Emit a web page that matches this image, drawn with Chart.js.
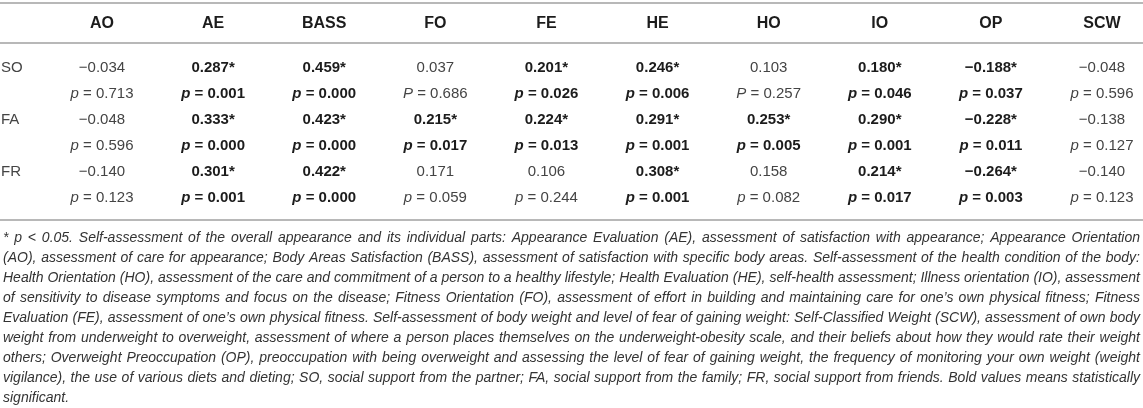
<!DOCTYPE html>
<html>
<head>
<meta charset="utf-8">
<script src="https://cdn.jsdelivr.net/npm/chart.js@4.4.1/dist/chart.umd.min.js"></script>
<style>
  html, body { margin: 0; padding: 0; background: #fff; }
  #wrap { width: 1143px; height: 408px; position: relative; }
</style>
</head>
<body>
<div id="wrap"><canvas id="table"></canvas></div>
<script>
const variables = ['AO', 'AE', 'BASS', 'FO', 'FE', 'HE', 'HO', 'IO', 'OP', 'SCW'];
const supportSources = ['SO', 'FA', 'FR'];

const soR = [-0.034, 0.287, 0.459, 0.037, 0.201, 0.246, 0.103, 0.180, -0.188, -0.048];
const soP = [0.713, 0.001, 0.000, 0.686, 0.026, 0.006, 0.257, 0.046, 0.037, 0.596];
const faR = [-0.048, 0.333, 0.423, 0.215, 0.224, 0.291, 0.253, 0.290, -0.228, -0.138];
const faP = [0.596, 0.000, 0.000, 0.017, 0.013, 0.001, 0.005, 0.001, 0.011, 0.127];
const frR = [-0.140, 0.301, 0.422, 0.171, 0.106, 0.308, 0.158, 0.214, -0.264, -0.140];
const frP = [0.123, 0.001, 0.000, 0.059, 0.244, 0.001, 0.082, 0.017, 0.003, 0.123];

// the source prints a capital P in two cells
const soPLetter = ['p', 'p', 'p', 'P', 'p', 'p', 'P', 'p', 'p', 'p'];
const faPLetter = ['p', 'p', 'p', 'p', 'p', 'p', 'p', 'p', 'p', 'p'];
const frPLetter = ['p', 'p', 'p', 'p', 'p', 'p', 'p', 'p', 'p', 'p'];

const ALPHA = 0.05;

const footnoteLines = [
  '* p < 0.05. Self-assessment of the overall appearance and its individual parts: Appearance Evaluation (AE), assessment of satisfaction with appearance; Appearance Orientation',
  '(AO), assessment of care for appearance; Body Areas Satisfaction (BASS), assessment of satisfaction with specific body areas. Self-assessment of the health condition of the body:',
  'Health Orientation (HO), assessment of the care and commitment of a person to a healthy lifestyle; Health Evaluation (HE), self-health assessment; Illness orientation (IO), assessment',
  'of sensitivity to disease symptoms and focus on the disease; Fitness Orientation (FO), assessment of effort in building and maintaining care for one\u2019s own physical fitness; Fitness',
  'Evaluation (FE), assessment of one\u2019s own physical fitness. Self-assessment of body weight and level of fear of gaining weight: Self-Classified Weight (SCW), assessment of own body',
  'weight from underweight to overweight, assessment of where a person places themselves on the underweight-obesity scale, and their beliefs about how they would rate their weight',
  'others; Overweight Preoccupation (OP), preoccupation with being overweight and assessing the level of fear of gaining weight, the frequency of monitoring your own weight (weight',
  'vigilance), the use of various diets and dieting; SO, social support from the partner; FA, social support from the family; FR, social support from friends. Bold values means statistically',
  'significant.',
];

const FONT = '"Liberation Sans", Arial, Helvetica, sans-serif';
const RULE_COLOR = '#b8b8b8';
const TEXT_COLOR = '#444444';
const BOLD_COLOR = '#1c1c1c';

const rowSets = [
  { r: soR, p: soP, letter: soPLetter },
  { r: faR, p: faP, letter: faPLetter },
  { r: frR, p: frP, letter: frPLetter },
];

const fmt = (v) => (v < 0 ? '\u2212' : '') + Math.abs(v).toFixed(3);

const datasets = [];
rowSets.forEach((set, r) => {
  datasets.push({
    label: supportSources[r] + ' r',
    data: variables.map((v, i) => ({
      x: i + 1, y: 2 * r + 1, kind: 'r', value: set.r[i], sig: set.p[i] < ALPHA,
    })),
  });
  datasets.push({
    label: supportSources[r] + ' p',
    data: variables.map((v, i) => ({
      x: i + 1, y: 2 * r + 2, kind: 'p', value: set.p[i], sig: set.p[i] < ALPHA, letter: set.letter[i],
    })),
  });
});

function drawCell(ctx, cell, cx, cy) {
  const weight = cell.sig ? 'bold ' : '';
  ctx.fillStyle = cell.sig ? BOLD_COLOR : TEXT_COLOR;
  ctx.textBaseline = 'middle';
  if (cell.kind === 'r') {
    ctx.font = weight + '15px ' + FONT;
    ctx.textAlign = 'center';
    ctx.fillText(fmt(cell.value) + (cell.sig ? '*' : ''), cx, cy);
    return;
  }
  const italic = 'italic ' + weight + '15px ' + FONT;
  const plain = weight + '15px ' + FONT;
  const rest = ' = ' + fmt(cell.value);
  ctx.font = italic;
  const w1 = ctx.measureText(cell.letter).width;
  ctx.font = plain;
  const w2 = ctx.measureText(rest).width;
  const left = cx - (w1 + w2) / 2;
  ctx.textAlign = 'left';
  ctx.font = italic;
  ctx.fillText(cell.letter, left, cy);
  ctx.font = plain;
  ctx.fillText(rest, left + w1, cy);
}

function drawJustified(ctx, text, x0, x1, y, justify) {
  const words = text.split(' ');
  if (!justify || words.length < 2) {
    ctx.fillText(text, x0, y);
    return;
  }
  const widths = words.map((w) => ctx.measureText(w).width);
  const total = widths.reduce((a, b) => a + b, 0);
  const gap = (x1 - x0 - total) / (words.length - 1);
  let x = x0;
  words.forEach((w, i) => {
    ctx.fillText(w, x, y);
    x += widths[i] + gap;
  });
}

const tablePlugin = {
  id: 'tableText',
  afterDatasetsDraw(chart) {
    const { ctx, chartArea, scales } = chart;
    const xs = scales.x;
    ctx.save();

    // rules
    ctx.strokeStyle = RULE_COLOR;
    ctx.lineWidth = 2;
    [chartArea.top - 52, chartArea.top - 12, chartArea.bottom + 9].forEach((yy) => {
      ctx.beginPath();
      ctx.moveTo(0, yy);
      ctx.lineTo(chart.width, yy);
      ctx.stroke();
    });

    // column headers
    ctx.fillStyle = BOLD_COLOR;
    ctx.font = 'bold 16px ' + FONT;
    ctx.textAlign = 'center';
    ctx.textBaseline = 'middle';
    variables.forEach((v, i) => ctx.fillText(v, xs.getPixelForValue(i + 1), chartArea.top - 31));

    // row labels
    ctx.fillStyle = TEXT_COLOR;
    ctx.font = '15px ' + FONT;
    ctx.textAlign = 'left';
    supportSources.forEach((s, r) => ctx.fillText(s, chartArea.left + 1, scales.y.getPixelForValue(2 * r + 1)));

    // cells
    chart.data.datasets.forEach((ds, di) => {
      chart.getDatasetMeta(di).data.forEach((pt, j) => drawCell(ctx, ds.data[j], pt.x, pt.y));
    });

    // footnote
    ctx.fillStyle = '#333333';
    ctx.font = 'italic 14px ' + FONT;
    ctx.textAlign = 'left';
    footnoteLines.forEach((line, i) => {
      drawJustified(ctx, line, 3, chart.width - 3, chartArea.bottom + 27 + i * 20, i < footnoteLines.length - 1);
    });
    ctx.restore();
  },
};

new Chart(document.getElementById('table'), {
  type: 'scatter',
  data: { datasets },
  options: {
    responsive: true,
    maintainAspectRatio: false,
    animation: false,
    layout: { padding: { top: 55, bottom: 197, left: 0, right: 0 } },
    elements: { point: { radius: 0, hoverRadius: 0 } },
    scales: {
      x: { type: 'linear', min: 0.082, max: 10.369, display: false },
      y: { type: 'linear', min: 0.5, max: 6.5, reverse: true, display: false },
    },
    plugins: {
      legend: { display: false },
      tooltip: { enabled: false },
    },
  },
  plugins: [tablePlugin],
});
</script>
</body>
</html>
